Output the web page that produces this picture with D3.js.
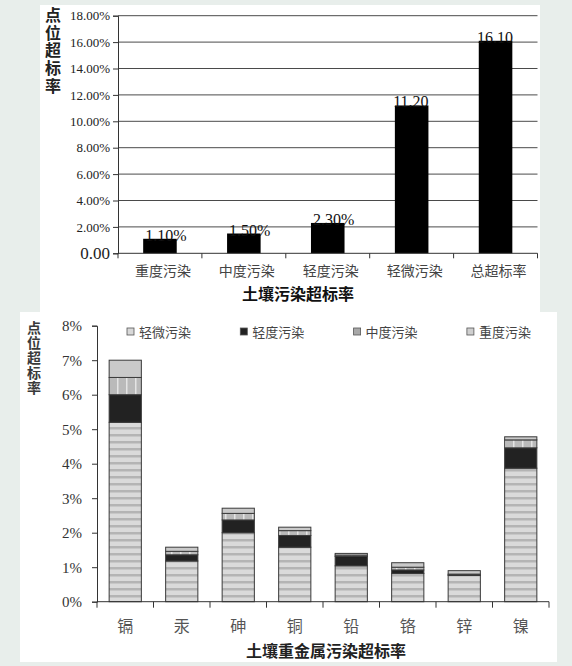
<!DOCTYPE html>
<html>
<head>
<meta charset="utf-8">
<script src="https://cdn.jsdelivr.net/npm/d3@7"></script>
<style>
  body { margin: 0; background: #e8eeeb; }
  svg { display: block; }
  .num { font-family: "Liberation Serif", "DejaVu Serif", serif; }
  .cjk { font-family: "Noto Sans CJK SC", sans-serif; }
</style>
</head>
<body>
<svg id="chart" width="572" height="666"></svg>
<script>
// top chart: overall exceedance by pollution level
var topCats = ['重度污染', '中度污染', '轻度污染', '轻微污染', '总超标率'];
var topValues = [1.10, 1.50, 2.30, 11.20, 16.10];
var topLabels = ['1.10%', '1.50%', '2.30%', '11.20', '16.10'];
var topTicks = [0, 2, 4, 6, 8, 10, 12, 14, 16, 18];

// bottom chart: exceedance by heavy metal, stacked by level
var metals = ['镉', '汞', '砷', '铜', '铅', '铬', '锌', '镍'];
var levels = ['轻微污染', '轻度污染', '中度污染', '重度污染'];
var slight = [5.20, 1.18, 2.00, 1.58, 1.04, 0.82, 0.76, 3.87];
var light = [0.80, 0.18, 0.37, 0.34, 0.27, 0.10, 0.02, 0.59];
var moderate = [0.50, 0.10, 0.19, 0.14, 0.04, 0.08, 0.02, 0.23];
var heavy = [0.50, 0.12, 0.15, 0.10, 0.05, 0.13, 0.10, 0.09];
var bottomTicks = [0, 1, 2, 3, 4, 5, 6, 7, 8];

var svg = d3.select('#chart');

// white panels
svg.append('rect').attr('x', 40).attr('y', 5).attr('width', 500).attr('height', 308).attr('fill', '#fff');
svg.append('rect').attr('x', 20).attr('y', 312).attr('width', 537).attr('height', 350).attr('fill', '#fff');

// ---------- top chart ----------
var yTop = d3.scaleLinear().domain([0, 18]).range([253.3, 15.7]);
var xTop = d3.scaleBand().domain(topCats).range([118, 537.5])
  .paddingInner(0.6).paddingOuter(0.3);

var topG = svg.append('g');

topG.append('g').selectAll('line')
  .data(topTicks.slice(1))
  .join('line')
    .attr('x1', 118).attr('x2', 537.5)
    .attr('y1', function(d) { return yTop(d); })
    .attr('y2', function(d) { return yTop(d); })
    .attr('stroke', '#4a4a4a').attr('stroke-width', 1);

var yAxisTop = topG.append('g')
  .attr('transform', 'translate(118,0)')
  .call(d3.axisLeft(yTop).tickValues(topTicks).tickSize(5).tickPadding(3)
    .tickFormat(function(d) { return d === 0 ? '0.00' : d.toFixed(2) + '%'; }));
yAxisTop.select('.domain').attr('stroke', '#333');
yAxisTop.selectAll('.tick line').attr('stroke', '#333');
yAxisTop.selectAll('text')
  .attr('class', 'num')
  .attr('fill', '#222')
  .style('font-size', function(d) { return d === 0 ? '17px' : '13px'; });

topG.selectAll('rect.bar')
  .data(topValues)
  .join('rect')
    .attr('class', 'bar')
    .attr('x', function(d, i) { return xTop(topCats[i]); })
    .attr('width', xTop.bandwidth())
    .attr('y', function(d) { return yTop(d); })
    .attr('height', function(d) { return yTop(0) - yTop(d); })
    .attr('fill', '#000');

// value labels: number centred on bar, % hangs to the right
topG.selectAll('text.val')
  .data(topValues)
  .join('text')
    .attr('class', 'val num')
    .attr('x', function(d, i) {
      var c = xTop(topCats[i]) + xTop.bandwidth() / 2;
      var num = topLabels[i].replace('%', '');
      return c - num.length * 3.7;
    })
    .attr('y', function(d) { return yTop(d) + 2; })
    .attr('font-size', 16)
    .attr('fill', '#111')
    .text(function(d, i) { return topLabels[i]; });

var xAxisTop = topG.append('g')
  .attr('transform', 'translate(0,' + yTop(0) + ')');
xAxisTop.append('line').attr('x1', 118).attr('x2', 537.5).attr('stroke', '#333');
xAxisTop.selectAll('line.tk')
  .data(d3.range(topCats.length + 1))
  .join('line')
    .attr('class', 'tk')
    .attr('x1', function(i) { return 118 + i * xTop.step(); })
    .attr('x2', function(i) { return 118 + i * xTop.step(); })
    .attr('y1', 0).attr('y2', 5)
    .attr('stroke', '#333');
xAxisTop.selectAll('text')
  .data(topCats)
  .join('text')
    .attr('class', 'cjk')
    .attr('x', function(d) { return xTop(d) + xTop.bandwidth() / 2 + 3; })
    .attr('y', 17)
    .attr('dominant-baseline', 'central')
    .attr('text-anchor', 'middle')
    .attr('font-size', 14)
    .attr('fill', '#444')
    .text(function(d) { return d; });

topG.append('text')
  .attr('class', 'cjk')
  .attr('x', 298).attr('y', 293)
  .attr('dominant-baseline', 'central')
  .attr('text-anchor', 'middle')
  .attr('font-size', 16).attr('font-weight', 'bold')
  .attr('fill', '#111')
  .text('土壤污染超标率');

// vertical axis title, one text element laid out top to bottom
topG.append('text')
  .attr('class', 'cjk')
  .attr('x', 53).attr('y', 7)
  .attr('writing-mode', 'vertical-rl')
  .style('letter-spacing', '1.7px')
  .attr('font-size', 16).attr('font-weight', 'bold')
  .attr('fill', '#222')
  .text('点位超标率');

// ---------- bottom chart ----------
var defs = svg.append('defs');

var pSlight = defs.append('pattern').attr('id', 'pSlight')
  .attr('patternUnits', 'userSpaceOnUse').attr('width', 8).attr('height', 7);
pSlight.append('rect').attr('width', 8).attr('height', 7).attr('fill', '#dadada');
pSlight.append('rect').attr('width', 8).attr('height', 2.5).attr('fill', '#b4b4b4');

var pMod = defs.append('pattern').attr('id', 'pMod')
  .attr('patternUnits', 'userSpaceOnUse').attr('width', 9).attr('height', 9);
pMod.append('rect').attr('width', 9).attr('height', 9).attr('fill', '#bababa');
pMod.append('rect').attr('width', 1.5).attr('height', 9).attr('fill', '#e4e4e4');

var fills = {
  '轻微污染': 'url(#pSlight)',
  '轻度污染': '#222',
  '中度污染': 'url(#pMod)',
  '重度污染': '#c9c9c9'
};
var legendFills = {
  '轻微污染': '#d8d8d8',
  '轻度污染': '#222',
  '中度污染': '#a8a8a8',
  '重度污染': '#cfcfcf'
};

var rows = metals.map(function(m, i) {
  return { metal: m, '轻微污染': slight[i], '轻度污染': light[i],
           '中度污染': moderate[i], '重度污染': heavy[i] };
});
var stacked = d3.stack().keys(levels)(rows);

var yB = d3.scaleLinear().domain([0, 8]).range([601.7, 325.7]);
var xB = d3.scaleBand().domain(metals).range([97, 549])
  .paddingInner(0.43).paddingOuter(0.215);

var bot = svg.append('g');

bot.selectAll('g.series')
  .data(stacked)
  .join('g')
    .attr('class', 'series')
    .attr('fill', function(s) { return fills[s.key]; })
  .selectAll('rect')
  .data(function(s) { return s; })
  .join('rect')
    .attr('x', function(d) { return xB(d.data.metal); })
    .attr('width', xB.bandwidth())
    .attr('y', function(d) { return yB(d[1]); })
    .attr('height', function(d) { return yB(d[0]) - yB(d[1]); })
    .attr('stroke', '#3a3a3a').attr('stroke-width', 1);

var yAxisB = bot.append('g')
  .attr('transform', 'translate(97,0)')
  .call(d3.axisLeft(yB).tickValues(bottomTicks).tickSize(5).tickPadding(10)
    .tickFormat(function(d) { return d + '%'; }));
yAxisB.select('.domain').attr('stroke', '#333');
yAxisB.selectAll('.tick line').attr('stroke', '#333');
yAxisB.selectAll('text')
  .attr('class', 'num')
  .attr('fill', '#333')
  .style('font-size', '15px');

var xAxisB = bot.append('g')
  .attr('transform', 'translate(0,' + yB(0) + ')');
xAxisB.append('line').attr('x1', 97).attr('x2', 549).attr('stroke', '#333');
xAxisB.selectAll('line.tk')
  .data(d3.range(metals.length + 1))
  .join('line')
    .attr('class', 'tk')
    .attr('x1', function(i) { return 97 + i * xB.step(); })
    .attr('x2', function(i) { return 97 + i * xB.step(); })
    .attr('y1', 0).attr('y2', 6)
    .attr('stroke', '#333');
xAxisB.selectAll('text')
  .data(metals)
  .join('text')
    .attr('class', 'cjk')
    .attr('x', function(d) { return xB(d) + xB.bandwidth() / 2; })
    .attr('y', 23)
    .attr('dominant-baseline', 'central')
    .attr('text-anchor', 'middle')
    .attr('font-size', 16)
    .attr('fill', '#555')
    .text(function(d) { return d; });

bot.append('text')
  .attr('class', 'cjk')
  .attr('x', 326).attr('y', 650)
  .attr('dominant-baseline', 'central')
  .attr('text-anchor', 'middle')
  .attr('font-size', 16).attr('font-weight', 'bold')
  .attr('fill', '#222')
  .text('土壤重金属污染超标率');

bot.append('text')
  .attr('class', 'cjk')
  .attr('x', 34).attr('y', 321)
  .attr('writing-mode', 'vertical-rl')
  .style('letter-spacing', '1px')
  .attr('font-size', 14).attr('font-weight', 'bold')
  .attr('fill', '#3a3a3a')
  .text('点位超标率');

// legend
var legend = bot.append('g').selectAll('g')
  .data(levels)
  .join('g')
    .attr('transform', function(d, i) { return 'translate(' + (127 + i * 113.3) + ',331.5)'; });
legend.append('rect')
  .attr('x', 0).attr('y', -3.5).attr('width', 7).attr('height', 7)
  .attr('fill', function(d) { return legendFills[d]; })
  .attr('stroke', '#555').attr('stroke-width', 0.8);
legend.append('text')
  .attr('class', 'cjk')
  .attr('x', 12).attr('y', 0)
  .attr('dominant-baseline', 'central')
  .attr('font-size', 13)
  .attr('fill', '#444')
  .text(function(d) { return d; });
</script>
</body>
</html>
